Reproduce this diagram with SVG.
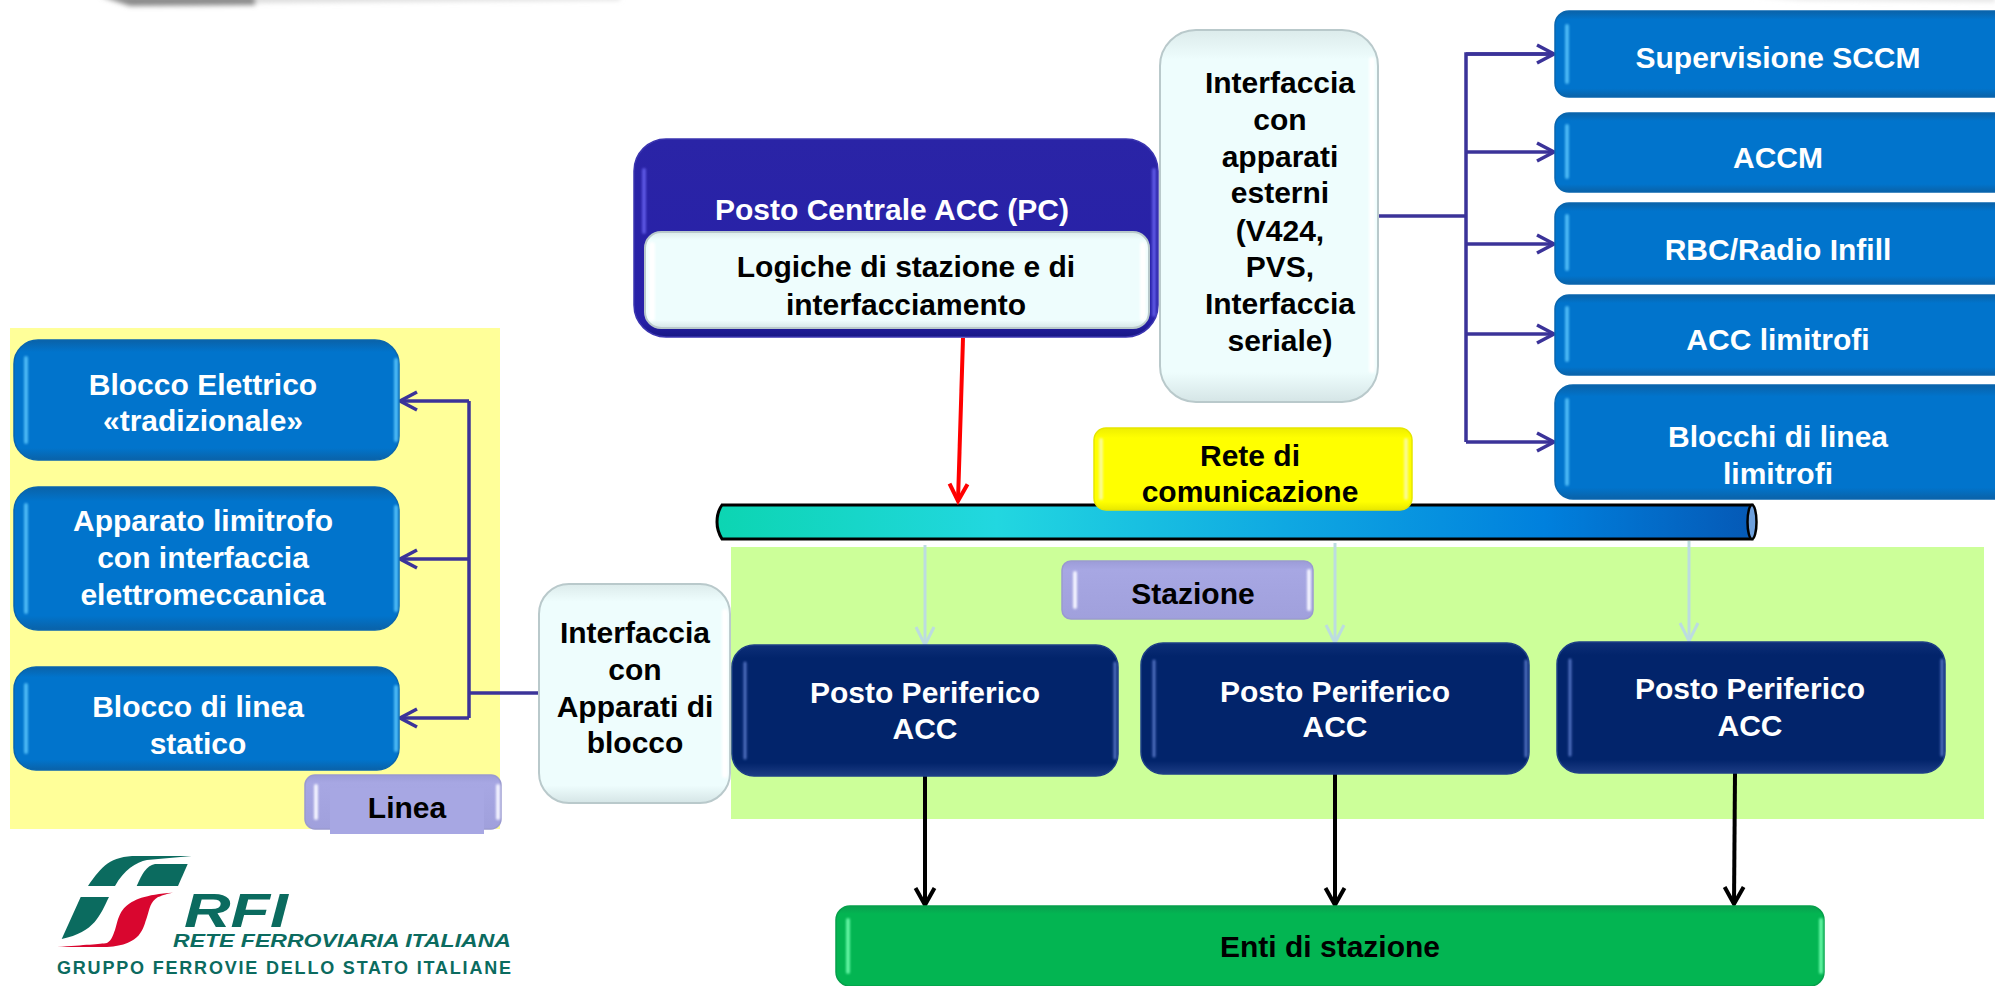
<svg xmlns="http://www.w3.org/2000/svg" width="1995" height="986" viewBox="0 0 1995 986">
<style>
text{font-family:"Liberation Sans",Arial,sans-serif;font-weight:bold;font-size:30px;text-anchor:middle}
.w{fill:#fff}.k{fill:#000}
.blue{fill:url(#gb);stroke:#0a66ae;stroke-width:1.5}
.navy{fill:url(#gn);stroke:#1d3f86;stroke-width:1.5}
.ind{fill:url(#gi);stroke:#3a34b0;stroke-width:1.5}
.ice{fill:url(#gc);stroke:#b9c9cb;stroke-width:2}
.lil{fill:url(#gl);stroke:#9a9ad0;stroke-width:1.5}
.yel{fill:url(#gy);stroke:#e6e600;stroke-width:1.5}
.grn{fill:url(#gg);stroke:#06a04b;stroke-width:1.5}
.hb,.hn,.hi,.hl,.hg,.hy,.hc{stroke-linecap:round;fill:none;filter:url(#s)}
.hb{stroke:#4cb8f4;stroke-width:4}
.hn{stroke:#4f6fc0;stroke-width:3}
.hi{stroke:#5a55e0;stroke-width:4}
.hl{stroke:#f2f2ff;stroke-width:4}
.hg{stroke:#5ff2a0;stroke-width:4}
.hy{stroke:#fbfb90;stroke-width:4}
.hc{stroke:#ffffff;stroke-width:6}
.c{fill:none;stroke-linejoin:miter}
.b1{stroke:#3b3399;stroke-width:3.500;marker-end:url(#mb)}
.b0{stroke:#3b3399;stroke-width:3.500}
.r1{stroke:#ff0000;stroke-width:4;marker-end:url(#mr)}
.l1{stroke:#bcdce0;stroke-width:3;marker-end:url(#ml)}
.d1{stroke:#000;stroke-width:4;marker-end:url(#md)}
.logo{fill:#0b6b5f}
</style>
<defs>
<filter id="s" filterUnits="userSpaceOnUse" x="0" y="0" width="1995" height="986"><feGaussianBlur stdDeviation="0.8"/></filter>
<filter id="top" filterUnits="userSpaceOnUse" x="0" y="-20" width="1995" height="60"><feGaussianBlur stdDeviation="2.500"/></filter>
<linearGradient id="bus" x1="0" x2="1" y1="0" y2="0">
<stop offset="0" stop-color="#0cd5b2"/><stop offset="0.27" stop-color="#22d7e0"/><stop offset="0.55" stop-color="#0fa8e2"/><stop offset="0.8" stop-color="#0080dd"/><stop offset="1" stop-color="#0559b6"/>
</linearGradient>
<linearGradient id="gb" x1="0" x2="0" y1="0" y2="1"><stop offset="0" stop-color="#0a62a8"/><stop offset="0.1" stop-color="#0174cc"/><stop offset="0.9" stop-color="#0174cc"/><stop offset="1" stop-color="#0a62a8"/></linearGradient>
<linearGradient id="gn" x1="0" x2="0" y1="0" y2="1"><stop offset="0" stop-color="#0d2f78"/><stop offset="0.1" stop-color="#02246b"/><stop offset="0.9" stop-color="#02246b"/><stop offset="1" stop-color="#1c3c84"/></linearGradient>
<linearGradient id="gi" x1="0" x2="0" y1="0" y2="1"><stop offset="0" stop-color="#2a24a6"/><stop offset="0.92" stop-color="#2720a8"/><stop offset="1" stop-color="#171785"/></linearGradient>
<linearGradient id="gc" x1="0" x2="0" y1="0" y2="1"><stop offset="0" stop-color="#dcebeb"/><stop offset="0.08" stop-color="#eefdfd"/><stop offset="0.92" stop-color="#eefdfd"/><stop offset="1" stop-color="#d5e5e6"/></linearGradient>
<linearGradient id="gl" x1="0" x2="0" y1="0" y2="1"><stop offset="0" stop-color="#9c9cd8"/><stop offset="0.15" stop-color="#a7a7e3"/><stop offset="1" stop-color="#a0a0dc"/></linearGradient>
<linearGradient id="gy" x1="0" x2="0" y1="0" y2="1"><stop offset="0" stop-color="#eeee00"/><stop offset="0.12" stop-color="#ffff00"/><stop offset="0.9" stop-color="#ffff00"/><stop offset="1" stop-color="#e8e800"/></linearGradient>
<linearGradient id="gg" x1="0" x2="0" y1="0" y2="1"><stop offset="0" stop-color="#09a04e"/><stop offset="0.1" stop-color="#03b552"/><stop offset="1" stop-color="#03b552"/></linearGradient>
<marker id="mb" markerUnits="userSpaceOnUse" markerWidth="24" markerHeight="26" refX="20" refY="12" orient="auto"><path d="M3,3 L20,12 L3,21" fill="none" stroke="#3b3399" stroke-width="3.500"/></marker>
<marker id="mr" markerUnits="userSpaceOnUse" markerWidth="24" markerHeight="26" refX="20" refY="12" orient="auto"><path d="M3,3 L20,12 L3,21" fill="none" stroke="#ff0000" stroke-width="4"/></marker>
<marker id="ml" markerUnits="userSpaceOnUse" markerWidth="24" markerHeight="26" refX="20" refY="12" orient="auto"><path d="M2,3 L20,12 L2,21" fill="none" stroke="#bcdce0" stroke-width="3"/></marker>
<marker id="md" markerUnits="userSpaceOnUse" markerWidth="24" markerHeight="26" refX="20" refY="12" orient="auto"><path d="M3,2.500 L20,12 L3,21.500" fill="none" stroke="#000" stroke-width="4"/></marker>
</defs>
<rect width="1995" height="986" fill="#fff"/>
<g id="top-shadow" filter="url(#top)"><path d="M100,-4 H260 L255,5 L130,6 Z" fill="#8a8a8a"/><path d="M255,-4 H620 V0 L255,3 Z" fill="#dcdcdc"/><path d="M1750,-4 H1995 V2 L1800,0 Z" fill="#e4e4e4"/></g>
<g id="regions">
<rect x="10" y="328" width="490" height="501" fill="#ffff99"/>
<rect x="731" y="547" width="1253" height="272" fill="#ccff99"/>
</g>
<g id="bus-pipe">
<path d="M722,505 H1752 V539 H722 Q717,531 717,522 Q717,512 722,505 Z" fill="url(#bus)" stroke="#000" stroke-width="3"/>
<ellipse cx="1752" cy="522" rx="4.500" ry="17" fill="#6ea0dc" stroke="#000" stroke-width="2.500"/>
</g>
<g id="connectors">
<path class="c b0" d="M1379,216 H1466"/>
<path class="c b0" d="M1554,54 H1466 V442"/>
<path class="c b1" d="M1466,54 H1554"/>
<path class="c b1" d="M1466,152 H1554"/>
<path class="c b1" d="M1466,244 H1554"/>
<path class="c b1" d="M1466,334 H1554"/>
<path class="c b1" d="M1466,442 H1554"/>
<path class="c b0" d="M539,693 H469"/>
<path class="c b0" d="M469,401 V718"/>
<path class="c b1" d="M469,401 H400"/>
<path class="c b1" d="M469,559 H400"/>
<path class="c b1" d="M469,718 H400"/>
<path class="c r1" d="M963,338 L958,501"/>
<path class="c l1" d="M925,545 V645"/>
<path class="c l1" d="M1335,543 V643"/>
<path class="c l1" d="M1689,541 V641"/>
<path class="c d1" d="M925,776 V905"/>
<path class="c d1" d="M1335,774 V905"/>
<path class="c d1" d="M1735,773 L1734,904"/>
</g>
<g id="n-blocco-elettrico"><rect class="blue" x="14" y="340" width="385" height="120" rx="24"/><path class="hb" d="M26,358 V442"/><path class="hb" d="M396,360 V440"/><text class="w" x="203" y="395">Blocco Elettrico</text><text class="w" x="203" y="431">«tradizionale»</text></g>
<g id="n-apparato-limitrofo"><rect class="blue" x="14" y="487" width="385" height="143" rx="24"/><path class="hb" d="M26,505 V612"/><path class="hb" d="M396,507 V610"/><text class="w" x="203" y="531">Apparato limitrofo</text><text class="w" x="203" y="568">con interfaccia</text><text class="w" x="203" y="605">elettromeccanica</text></g>
<g id="n-blocco-linea"><rect class="blue" x="14" y="667" width="385" height="103" rx="22"/><path class="hb" d="M26,685 V752"/><path class="hb" d="M396,687 V750"/><text class="w" x="198" y="717">Blocco di linea</text><text class="w" x="198" y="754">statico</text></g>
<g id="n-linea"><rect class="lil" x="305" y="775" width="196" height="54" rx="10"/><path class="hl" d="M316,786 V818"/><path class="hl" d="M498,786 V818"/><rect x="330" y="788" width="154" height="46" fill="#a7a7e3"/><text class="k" x="407" y="818">Linea</text></g>
<g id="n-posto-centrale"><rect class="ind" x="634" y="139" width="524" height="198" rx="32"/><path class="hi" d="M644,170 V232"/><path class="hi" d="M1154,170 V315"/><text class="w" x="892" y="220">Posto Centrale ACC (PC)</text></g>
<g id="n-logiche"><rect class="ice" x="645" y="232" width="504" height="96" rx="16"/><path class="hc" d="M652,245 V318 M1143,245 V318"/><text class="k" x="906" y="277">Logiche di stazione e di</text><text class="k" x="906" y="315">interfacciamento</text></g>
<g id="n-interfaccia-esterni"><rect class="ice" x="1160" y="30" width="218" height="372" rx="36"/><path class="hc" d="M1372,60 V370"/><text class="k" x="1280" y="93">Interfaccia</text><text class="k" x="1280" y="130">con</text><text class="k" x="1280" y="167">apparati</text><text class="k" x="1280" y="203">esterni</text><text class="k" x="1280" y="241">(V424,</text><text class="k" x="1280" y="277">PVS,</text><text class="k" x="1280" y="314">Interfaccia</text><text class="k" x="1280" y="351">seriale)</text></g>
<g id="n-supervisione"><rect class="blue" x="1555" y="11" width="460" height="86" rx="14"/><path class="hb" d="M1567,26 V82"/><text class="w" x="1778" y="68">Supervisione SCCM</text></g>
<g id="n-accm"><rect class="blue" x="1555" y="113" width="460" height="79" rx="14"/><path class="hb" d="M1567,126 V177"/><text class="w" x="1778" y="168">ACCM</text></g>
<g id="n-rbc"><rect class="blue" x="1555" y="203" width="460" height="81" rx="14"/><path class="hb" d="M1567,216 V269"/><text class="w" x="1778" y="260">RBC/Radio Infill</text></g>
<g id="n-acc-limitrofi"><rect class="blue" x="1555" y="295" width="460" height="80" rx="14"/><path class="hb" d="M1567,308 V360"/><text class="w" x="1778" y="350">ACC limitrofi</text></g>
<g id="n-blocchi"><rect class="blue" x="1555" y="385" width="460" height="114" rx="18"/><path class="hb" d="M1567,400 V484"/><text class="w" x="1778" y="447">Blocchi di linea</text><text class="w" x="1778" y="484">limitrofi</text></g>
<g id="n-rete"><rect class="yel" x="1094" y="428" width="318" height="82" rx="12"/><path class="hy" d="M1101,440 V498"/><path class="hy" d="M1406,440 V498"/><text class="k" x="1250" y="466">Rete di</text><text class="k" x="1250" y="502">comunicazione</text></g>
<g id="n-stazione"><rect class="lil" x="1062" y="561" width="251" height="58" rx="9"/><path class="hl" d="M1075,573 V607"/><path class="hl" d="M1309,571 V609"/><text class="k" x="1193" y="604">Stazione</text></g>
<g id="n-interfaccia-blocco"><rect class="ice" x="539" y="584" width="191" height="219" rx="30"/><path class="hc" d="M725,612 V775"/><text class="k" x="635" y="643">Interfaccia</text><text class="k" x="635" y="680">con</text><text class="k" x="635" y="717">Apparati di</text><text class="k" x="635" y="753">blocco</text></g>
<g id="n-pp1"><rect class="navy" x="732" y="645" width="386" height="131" rx="22"/><path class="hn" d="M745,663 V758"/><path class="hn" d="M1115,663 V758"/><text class="w" x="925" y="703">Posto Periferico</text><text class="w" x="925" y="739">ACC</text></g>
<g id="n-pp2"><rect class="navy" x="1141" y="643" width="388" height="131" rx="22"/><path class="hn" d="M1154,661 V756"/><path class="hn" d="M1526,661 V756"/><text class="w" x="1335" y="702">Posto Periferico</text><text class="w" x="1335" y="737">ACC</text></g>
<g id="n-pp3"><rect class="navy" x="1557" y="642" width="388" height="131" rx="22"/><path class="hn" d="M1570,660 V755"/><path class="hn" d="M1942,660 V755"/><text class="w" x="1750" y="699">Posto Periferico</text><text class="w" x="1750" y="736">ACC</text></g>
<g id="n-enti"><rect class="grn" x="836" y="906" width="988" height="80" rx="14"/><path class="hg" d="M848,920 V972"/><path class="hg" d="M1821,920 V972"/><text class="k" x="1330" y="957">Enti di stazione</text></g>
<g id="logo">
<path class="logo" d="M191.700,856 L137,856 C110,856 102,866 88,886 L115,886 C124,870 136,862 147,860 Z"/>
<path class="logo" d="M187.700,864 L155,864 C146,866 142,874 136.700,886 L178,886 Z"/>
<path class="logo" d="M61.700,939 L80.700,897 H109 C100,915 95,932 61.700,939 Z"/>
<path d="M57,947 C85,945 100,944 107,943 C112,940 113,935 115,930 C120,915 118,896 173,892.700 C165,894 161,896 158,897 C150,902 150,908 147,917 C143,928 142,945 107,947 Z" fill="#d9062f"/>
<text class="logo" x="184" y="927" style="font-size:48px;font-style:italic;text-anchor:start" textLength="104" lengthAdjust="spacingAndGlyphs">RFI</text>
<text class="logo" x="173" y="947" style="font-size:18px;font-style:italic;text-anchor:start" textLength="338" lengthAdjust="spacingAndGlyphs">RETE FERROVIARIA ITALIANA</text>
<text class="logo" x="57" y="974" style="font-size:18px;text-anchor:start" textLength="454" lengthAdjust="spacing">GRUPPO FERROVIE DELLO STATO ITALIANE</text>
</g>
</svg>
